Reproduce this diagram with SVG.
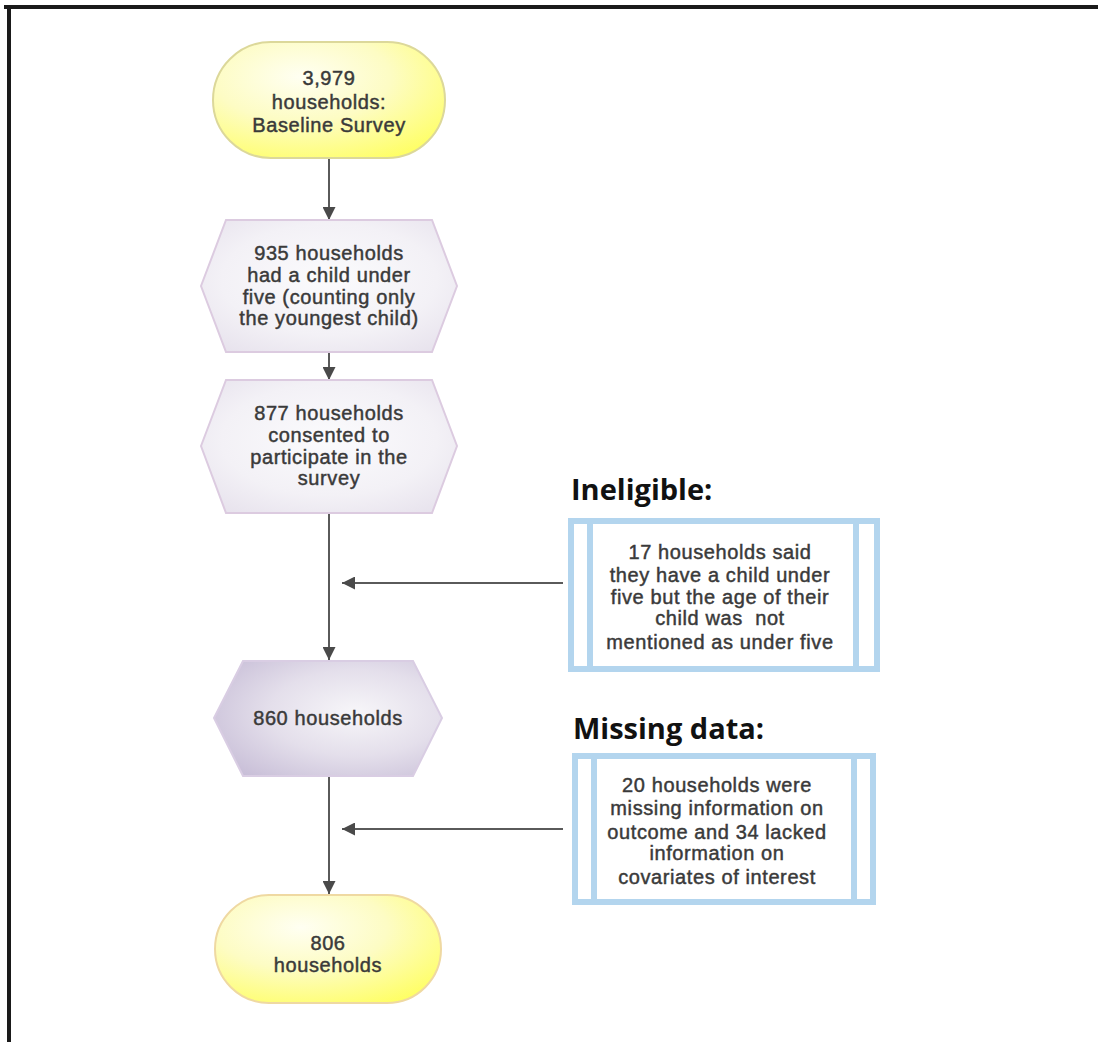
<svg xmlns="http://www.w3.org/2000/svg" width="1098" height="1042" viewBox="0 0 1098 1042">
<defs>
<radialGradient id="gPill" cx="0.38" cy="0.3" r="0.85">
<stop offset="0" stop-color="#fffff2"/>
<stop offset="0.45" stop-color="#fdfcc4"/>
<stop offset="1" stop-color="#ffff5a"/>
</radialGradient>
<radialGradient id="gHex" cx="0.5" cy="0.45" r="0.7">
<stop offset="0" stop-color="#fbfbfd"/>
<stop offset="0.6" stop-color="#f3f1f6"/>
<stop offset="1" stop-color="#e6e1ec"/>
</radialGradient>
<radialGradient id="gHexDark" cx="0.62" cy="0.45" r="0.75">
<stop offset="0" stop-color="#f7f6f9"/>
<stop offset="0.5" stop-color="#e4dfeb"/>
<stop offset="1" stop-color="#c6bcd6"/>
</radialGradient>
<marker id="arr" viewBox="0 0 10 10" refX="10" refY="5" markerWidth="6.5" markerHeight="6.5" markerUnits="strokeWidth" orient="auto">
<path d="M0,0 L10,5 L0,10 z" fill="#4a4a4a"/>
</marker>
<style>
.t{font-family:"Liberation Sans",Arial,sans-serif;font-size:20px;letter-spacing:0.6px;fill:#3a3a3a;stroke:#3a3a3a;stroke-width:0.45px;text-anchor:middle}
.h{font-family:"Open Sans","Liberation Sans",sans-serif;font-weight:bold;font-size:29px;fill:#111}
.pill{fill:url(#gPill);stroke:#dcd89a;stroke-width:2}
.hex{fill:url(#gHex);stroke:#dccbe0;stroke-width:2}
.hexd{fill:url(#gHexDark);stroke:#d9cde3;stroke-width:2}
.box{fill:#fff;stroke:#b3d5ee;stroke-width:6}
.bar{stroke:#b3d5ee;stroke-width:6}
.c{stroke:#5a5a5a;stroke-width:2;fill:none;marker-end:url(#arr)}
</style>
</defs>
<rect width="1098" height="1042" fill="#fff"/>
<path d="M4,7 H1098 M9,7 V1042" stroke="#1a1a1a" stroke-width="4" fill="none"/>

<g id="connectors">
<line class="c" x1="329" y1="158" x2="329" y2="220"/>
<line class="c" x1="329" y1="352" x2="329" y2="380"/>
<line class="c" x1="329" y1="513" x2="329" y2="660"/>
<line class="c" x1="563" y1="583" x2="342" y2="583"/>
<line class="c" x1="329" y1="776" x2="329" y2="894"/>
<line class="c" x1="563" y1="829" x2="342" y2="829"/>
</g>

<g id="n1">
<rect class="pill" x="213" y="42" width="232" height="116" rx="58" ry="58"/>
<text class="t" x="329" y="85">3,979</text>
<text class="t" x="329" y="109">households:</text>
<text class="t" x="329" y="132">Baseline Survey</text>
</g>

<g id="n2">
<polygon class="hex" points="201,286 226,220 432,220 457,286 432,352 226,352"/>
<text class="t" x="329" y="260">935 households</text>
<text class="t" x="329" y="282">had a child under</text>
<text class="t" x="329" y="304">five (counting only</text>
<text class="t" x="329" y="325">the youngest child)</text>
</g>

<g id="n3">
<polygon class="hex" points="201,446 226,380 432,380 457,446 432,513 226,513"/>
<text class="t" x="329" y="420">877 households</text>
<text class="t" x="329" y="442">consented to</text>
<text class="t" x="329" y="464">participate in the</text>
<text class="t" x="329" y="485">survey</text>
</g>

<g id="n4">
<polygon class="hexd" points="214,718 243,661 413,661 442,718 413,776 243,776"/>
<text class="t" x="328" y="725">860 households</text>
</g>

<g id="n5">
<rect class="pill" x="215" y="895" width="226" height="108" rx="54" ry="54" style="stroke:#efd9a2"/>
<text class="t" x="328" y="950">806</text>
<text class="t" x="328" y="972">households</text>
</g>

<g id="ineligible">
<text class="h" x="571" y="500">Ineligible:</text>
<rect class="box" x="571" y="521" width="306" height="148"/>
<line class="bar" x1="590" y1="521" x2="590" y2="669"/>
<line class="bar" x1="856" y1="521" x2="856" y2="669"/>
<text class="t" x="720" y="559">17 households said</text>
<text class="t" x="720" y="582">they have a child under</text>
<text class="t" x="720" y="604">five but the age of their</text>
<text class="t" x="720" y="625">child was&#160; not</text>
<text class="t" x="720" y="649">mentioned as under five</text>
</g>

<g id="missing">
<text class="h" x="573" y="739">Missing data:</text>
<rect class="box" x="575" y="756" width="298" height="146"/>
<line class="bar" x1="594" y1="756" x2="594" y2="902"/>
<line class="bar" x1="854" y1="756" x2="854" y2="902"/>
<text class="t" x="717" y="792">20 households were</text>
<text class="t" x="717" y="815">missing information on</text>
<text class="t" x="717" y="839">outcome and 34 lacked</text>
<text class="t" x="717" y="860">information on</text>
<text class="t" x="717" y="884">covariates of interest</text>
</g>
</svg>
